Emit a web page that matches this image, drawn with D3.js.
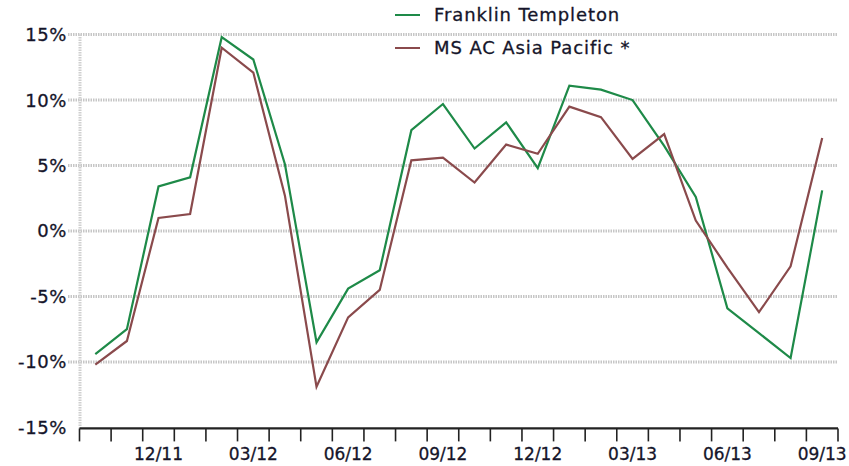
<!DOCTYPE html>
<html>
<head>
<meta charset="utf-8">
<script src="https://cdn.jsdelivr.net/npm/d3@7"></script>
<style>
  html, body { margin: 0; padding: 0; background: #fff; }
  svg { display: block; }
  text { font-family: "DejaVu Sans", Verdana, sans-serif; fill: #15152a; stroke: #15152a; stroke-width: 0.3px; }
</style>
</head>
<body>
<svg id="chart" width="849" height="466"></svg>
<script>
// Monthly periods, 10/11 through 09/13
const months = [
  "10/11", "11/11", "12/11", "01/12", "02/12", "03/12", "04/12", "05/12",
  "06/12", "07/12", "08/12", "09/12", "10/12", "11/12", "12/12", "01/13",
  "02/13", "03/13", "04/13", "05/13", "06/13", "07/13", "08/13", "09/13"
];

// Rolling returns in percent
const franklinTempleton = [
  -9.4, -7.5, 3.4, 4.1, 14.8, 13.1, 5.1, -8.5, -4.4, -3.0, 7.7, 9.7,
  6.3, 8.3, 4.8, 11.1, 10.8, 10.0, 6.5, 2.6, -5.9, -7.8, -9.7, 3.1
];
const msAcAsiaPacific = [
  -10.2, -8.4, 1.0, 1.3, 14.0, 12.1, 2.7, -11.9, -6.6, -4.5, 5.4, 5.6,
  3.7, 6.6, 5.9, 9.5, 8.7, 5.5, 7.4, 0.8, -2.8, -6.2, -2.7, 7.1
];

const yTicks = [15, 10, 5, 0, -5, -10, -15];
const xLabels = ["12/11", "03/12", "06/12", "09/12", "12/12", "03/13", "06/13", "09/13"];

const seriesNames = ["Franklin Templeton", "MS AC Asia Pacific *"];
const seriesColors = ["#1e8a48", "#8a4a4c"];

const svg = d3.select("#chart");

const plotLeft = 79.5, plotRight = 838, plotTop = 34.6, plotBottom = 427.4;

const x = d3.scaleBand().domain(months).range([plotLeft, plotRight]).padding(0);
const y = d3.scaleLinear().domain([-15, 15]).range([plotBottom, plotTop]);

// Horizontal dotted grid
svg.append("g")
  .selectAll("line")
  .data(yTicks.filter(d => d !== -15))
  .join("line")
  .attr("x1", 68).attr("x2", plotRight)
  .attr("y1", d => y(d)).attr("y2", d => y(d))
  .attr("stroke", "#c6c6c6")
  .attr("stroke-width", 3)
  .attr("stroke-dasharray", "1.5,1");

// Left dotted vertical grid line
svg.append("line")
  .attr("x1", plotLeft + 0.5).attr("x2", plotLeft + 0.5)
  .attr("y1", plotTop).attr("y2", plotBottom)
  .attr("stroke", "#d0d0d0")
  .attr("stroke-width", 3)
  .attr("stroke-dasharray", "1.5,1");

// Y axis labels
svg.append("g")
  .selectAll("text")
  .data(yTicks)
  .join("text")
  .attr("x", 67)
  .attr("y", d => y(d))
  .attr("dy", "0.36em")
  .attr("text-anchor", "end")
  .style("font-size", "18px")
  .style("letter-spacing", "0.6px")
  .text(d => d + "%");

// Bottom axis: solid base line with ticks on every month boundary
const tickPositions = months.map(m => x(m)).concat([plotRight]);
svg.append("line")
  .attr("x1", plotLeft).attr("x2", plotRight)
  .attr("y1", y(-15) + 1).attr("y2", y(-15) + 1)
  .attr("stroke", "#222")
  .attr("stroke-width", 2.2);
svg.append("g")
  .selectAll("line")
  .data(tickPositions)
  .join("line")
  .attr("x1", d => d).attr("x2", d => d)
  .attr("y1", y(-15) + 1).attr("y2", y(-15) + 14)
  .attr("stroke", "#222")
  .attr("stroke-width", 1.6);

svg.append("g")
  .selectAll("text")
  .data(xLabels)
  .join("text")
  .attr("x", d => x(d) + x.bandwidth() / 2)
  .attr("y", 460)
  .attr("text-anchor", "middle")
  .style("font-size", "17px")
  .text(d => d);

// Series lines
const line = d3.line()
  .x((d, i) => x(months[i]) + x.bandwidth() / 2)
  .y(d => y(d));

[franklinTempleton, msAcAsiaPacific].forEach((vals, i) => {
  svg.append("path")
    .datum(vals)
    .attr("fill", "none")
    .attr("stroke", seriesColors[i])
    .attr("stroke-width", 2.2)
    .attr("stroke-linejoin", "miter")
    .attr("d", line);
});

// Legend
const legend = svg.append("g");
const legendRows = [15, 48];
seriesNames.forEach((name, i) => {
  legend.append("line")
    .attr("x1", 395).attr("x2", 420)
    .attr("y1", legendRows[i]).attr("y2", legendRows[i])
    .attr("stroke", seriesColors[i])
    .attr("stroke-width", 2);
  legend.append("text")
    .attr("x", 434)
    .attr("y", legendRows[i])
    .attr("dy", "0.36em")
    .style("font-size", "18px")
    .style("letter-spacing", "0.9px")
    .text(name);
});
</script>
</body>
</html>
